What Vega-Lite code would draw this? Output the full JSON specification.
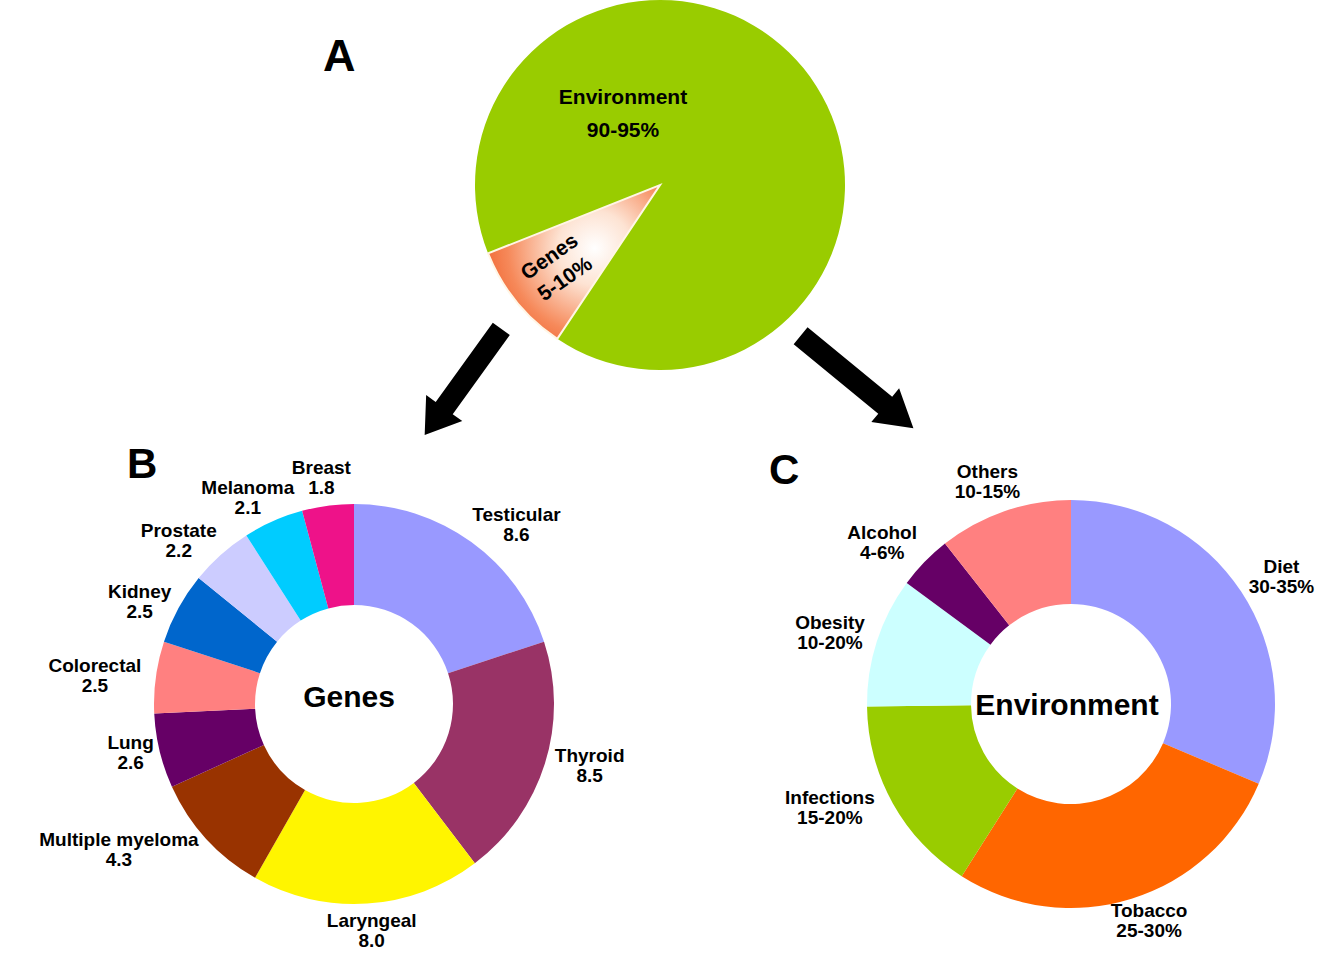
{
  "$schema": "https://vega.github.io/schema/vega-lite/v6.json",
  "padding": 0,
  "background": "white",
  "config": {
    "view": {"stroke": null},
    "font": "Liberation Sans",
    "title": {"font": "Liberation Sans", "fontWeight": "bold", "color": "#000000", "anchor": "start", "frame": "group", "align": "left"}
  },
  "bounds": "flush",
  "spacing": 78,
  "resolve": {"scale": {"theta": "independent", "color": "independent", "x": "independent", "y": "independent"}},
  "vconcat": [
    {
      "width": 1320,
      "height": 370,
      "title": {"text": "A", "fontSize": 45, "dx": 323, "offset": -80},
      "data": {"values": [
        {"i": 1, "source": "Environment", "pct": 90.4, "range": "90-95%"},
        {"i": 2, "source": "Genes", "pct": 9.6, "range": "5-10%"}
      ]},
      "layer": [
        {
          "mark": {"type": "arc", "outerRadius": 185, "strokeWidth": 2},
          "encoding": {
            "theta": {"field": "pct", "type": "quantitative", "stack": true, "scale": {"range": [4.3336, 10.6168]}},
            "order": {"field": "i", "type": "quantitative"},
            "detail": {"field": "source", "type": "nominal"},
            "fill": {
              "condition": {"test": "datum.source === 'Genes'", "value": {"gradient": "radial", "x1": 0.62, "y1": 0.42, "r1": 0, "x2": 0.62, "y2": 0.42, "r2": 0.72, "stops": [{"offset": 0, "color": "#ffffff"}, {"offset": 0.3, "color": "#fde3d3"}, {"offset": 0.7, "color": "#f6895a"}, {"offset": 1, "color": "#ef5a24"}]}},
              "value": "#99CC00"
            },
            "stroke": {"condition": {"test": "datum.source === 'Genes'", "value": "#fff6e6"}, "value": null}
          }
        },
        {
          "mark": {"type": "text", "radius": 132, "angle": 325, "fontSize": 21, "fontWeight": "bold", "lineHeight": 27, "align": "center", "baseline": "middle", "dy": -13, "color": "#000000",
            "text": {"expr": "datum.source === 'Genes' ? [datum.source, datum.range] : ''"}},
          "encoding": {
            "theta": {"field": "pct", "type": "quantitative", "stack": true, "scale": {"range": [4.3336, 10.6168]}},
            "order": {"field": "i", "type": "quantitative"},
            "detail": {"field": "source", "type": "nominal"}
          }
        },
        {
          "transform": [{"filter": "datum.source === 'Environment'"}],
          "mark": {"type": "text", "fontSize": 21, "fontWeight": "bold", "lineHeight": 33, "align": "center", "baseline": "alphabetic", "dx": -37, "dy": -81, "color": "#000000",
            "text": {"expr": "[datum.source, datum.range]"}},
          "encoding": {}
        },
        {
          "data": {"values": [{"from": "A", "to": "B"}, {"from": "A", "to": "C"}]},
          "transform": [{"filter": "datum.to === 'B'"}],
          "mark": {"type": "point", "shape": "M -0.16 1 L 0.16 1 L 0.16 -0.49 L 0.34 -0.49 L 0 -1 L -0.34 -0.49 L -0.16 -0.49 Z", "size": 17161, "angle": 215.8, "yOffset": 197, "filled": true, "color": "#000000", "opacity": 1, "strokeWidth": 0},
          "encoding": {"x": {"field": "to", "type": "nominal", "scale": {"type": "band", "domain": ["B", "C"], "paddingInner": 0.65, "paddingOuter": 1}, "axis": null}}
        },
        {
          "data": {"values": [{"from": "A", "to": "B"}, {"from": "A", "to": "C"}]},
          "transform": [{"filter": "datum.to === 'C'"}],
          "mark": {"type": "point", "shape": "M -0.15 1 L 0.15 1 L 0.15 -0.5 L 0.3 -0.5 L 0 -1 L -0.3 -0.5 L -0.15 -0.5 Z", "size": 21316, "angle": 129.4, "yOffset": 197, "filled": true, "color": "#000000", "opacity": 1, "strokeWidth": 0},
          "encoding": {"x": {"field": "to", "type": "nominal", "scale": {"type": "band", "domain": ["B", "C"], "paddingInner": 0.65, "paddingOuter": 1}, "axis": null}}
        }
      ]
    },
    {
      "bounds": "flush",
      "spacing": 90,
      "resolve": {"scale": {"theta": "independent", "color": "independent", "x": "independent", "y": "independent"}},
      "hconcat": [
        {
          "width": 708,
          "height": 512,
          "title": {"text": "B", "fontSize": 42, "dx": 127, "offset": -39},
          "data": {"values": [
            {"i": 1, "cancer": "Testicular", "rr": 8.6},
            {"i": 2, "cancer": "Thyroid", "rr": 8.5},
            {"i": 3, "cancer": "Laryngeal", "rr": 8.0},
            {"i": 4, "cancer": "Multiple myeloma", "rr": 4.3},
            {"i": 5, "cancer": "Lung", "rr": 2.6},
            {"i": 6, "cancer": "Colorectal", "rr": 2.5},
            {"i": 7, "cancer": "Kidney", "rr": 2.5},
            {"i": 8, "cancer": "Prostate", "rr": 2.2},
            {"i": 9, "cancer": "Melanoma", "rr": 2.1},
            {"i": 10, "cancer": "Breast", "rr": 1.8}
          ]},
          "layer": [
            {
              "mark": {"type": "arc", "outerRadius": 200, "innerRadius": 99},
              "encoding": {
                "theta": {"field": "rr", "type": "quantitative", "stack": true},
                "order": {"field": "i", "type": "quantitative"},
                "color": {"field": "cancer", "type": "nominal", "legend": null,
                  "scale": {"domain": ["Testicular", "Thyroid", "Laryngeal", "Multiple myeloma", "Lung", "Colorectal", "Kidney", "Prostate", "Melanoma", "Breast"],
                            "range": ["#9999FF", "#993366", "#FFF500", "#993300", "#660066", "#FF8080", "#0066CC", "#CCCCFF", "#00CCFF", "#EE1289"]}}
              }
            },
            {
              "mark": {"type": "text", "radius": 208, "fontSize": 19, "fontWeight": "bold", "lineHeight": 20, "align": "center", "baseline": "middle", "color": "#000000",
                "text": {"expr": "[datum.cancer, format(datum.rr, '.1f')]"},
                "dx": {"expr": "clamp(1.3*sin(PI*(datum.rr_start+datum.rr_end)/43.1), -1, 1) * 5.3 * max(length(datum.cancer), 3)"},
                "dy": {"expr": "-10 - 20*pow(abs(cos(PI*(datum.rr_start+datum.rr_end)/43.1)), 3)*(cos(PI*(datum.rr_start+datum.rr_end)/43.1) > 0 ? 1 : -1)"}},
              "encoding": {
                "theta": {"field": "rr", "type": "quantitative", "stack": true},
                "order": {"field": "i", "type": "quantitative"},
                "detail": {"field": "cancer", "type": "nominal"}
              }
            },
            {
              "data": {"values": [{"name": "Genes"}]},
              "mark": {"type": "text", "fontSize": 30, "fontWeight": "bold", "align": "center", "baseline": "middle", "dx": -5, "dy": -6, "color": "#000000"},
              "encoding": {"text": {"field": "name", "type": "nominal"}}
            }
          ]
        },
        {
          "width": 546,
          "height": 512,
          "title": {"text": "C", "fontSize": 42, "dx": -29, "offset": -45},
          "data": {"values": [
            {"i": 1, "factor": "Diet", "share": 31.4, "range": "30-35%"},
            {"i": 2, "factor": "Tobacco", "share": 27.6, "range": "25-30%"},
            {"i": 3, "factor": "Infections", "share": 15.8, "range": "15-20%"},
            {"i": 4, "factor": "Obesity", "share": 10.3, "range": "10-20%"},
            {"i": 5, "factor": "Alcohol", "share": 4.3, "range": "4-6%"},
            {"i": 6, "factor": "Others", "share": 10.6, "range": "10-15%"}
          ]},
          "layer": [
            {
              "mark": {"type": "arc", "outerRadius": 204, "innerRadius": 100},
              "encoding": {
                "theta": {"field": "share", "type": "quantitative", "stack": true},
                "order": {"field": "i", "type": "quantitative"},
                "color": {"field": "factor", "type": "nominal", "legend": null,
                  "scale": {"domain": ["Diet", "Tobacco", "Infections", "Obesity", "Alcohol", "Others"],
                            "range": ["#9999FF", "#FF6600", "#99CC00", "#CCFFFF", "#660066", "#FF8080"]}}
              }
            },
            {
              "mark": {"type": "text", "radius": 212, "fontSize": 19, "fontWeight": "bold", "lineHeight": 20, "align": "center", "baseline": "middle", "color": "#000000",
                "text": {"expr": "[datum.factor, datum.range]"},
                "dx": {"expr": "clamp(1.3*sin(PI*(datum.share_start+datum.share_end)/100), -1, 1) * 5.6 * max(length(datum.factor), length(datum.range))"},
                "dy": {"expr": "-14 - 20*cos(PI*(datum.share_start+datum.share_end)/100)*abs(cos(PI*(datum.share_start+datum.share_end)/100))"}},
              "encoding": {
                "theta": {"field": "share", "type": "quantitative", "stack": true},
                "order": {"field": "i", "type": "quantitative"},
                "detail": {"field": "factor", "type": "nominal"}
              }
            },
            {
              "data": {"values": [{"name": "Environment"}]},
              "mark": {"type": "text", "fontSize": 30, "fontWeight": "bold", "align": "center", "baseline": "middle", "dx": -4, "dy": 2, "color": "#000000"},
              "encoding": {"text": {"field": "name", "type": "nominal"}}
            }
          ]
        }
      ]
    }
  ]
}
